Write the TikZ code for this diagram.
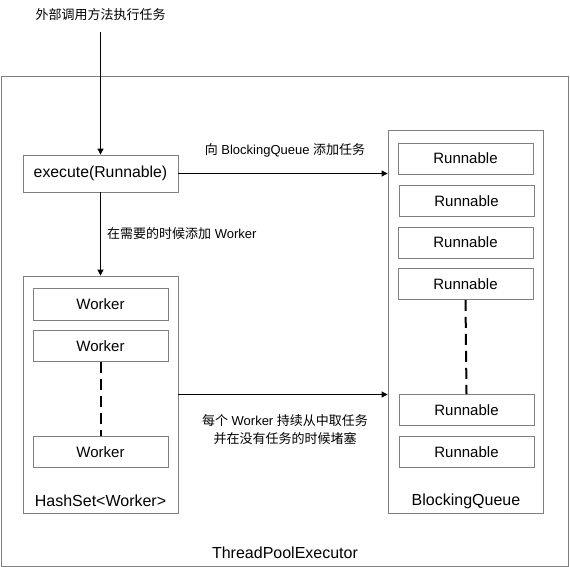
\documentclass[tikz,border=0pt]{standalone}
\usepackage{fontspec}
\setmainfont{Liberation Sans}
\newfontfamily\cjk{Noto Sans CJK SC}
\usetikzlibrary{arrows.meta}
\begin{document}
\begin{tikzpicture}[x=1pt,y=-1pt,
  gbox/.style={draw=black!50, line width=0.8pt, inner sep=0pt, font=\fontsize{15}{17}\selectfont},
  arr/.style={draw=black, line width=0.8pt, -{Triangle[length=6pt,width=6pt]}},
  dsh/.style={draw=black, line width=2pt, dash pattern=on 11pt off 6pt},
  lbl/.style={font=\fontsize{13}{18}\selectfont, inner sep=0pt},
  big/.style={font=\fontsize{16}{18}\selectfont, inner sep=0pt}]
\useasboundingbox (0,0) rectangle (570,567);
% outer container
\node[gbox, minimum width=567pt, minimum height=490pt] (pool) at (284.5,321) {};
\node[big] (poollbl) at (285,553) {ThreadPoolExecutor};
% top text
\node[lbl] (ext) at (100.5,15) {\cjk 外部调用方法执行任务};
\coordinate (start) at (100.5,32);
% execute
\node[gbox, minimum width=155pt, minimum height=37pt, font=\fontsize{15.8}{18}\selectfont] (exec) at (100.5,173.5) {execute(Runnable)};
% queue
\node[gbox, minimum width=155pt, minimum height=383pt] (queue) at (465.5,321.5) {};
\node[big] (queuelbl) at (466,501) {BlockingQueue};
\node[gbox, minimum width=135pt, minimum height=31pt] (r1) at (465.5,158.5) {Runnable};
\node[gbox, minimum width=135pt, minimum height=31pt] (r2) at (466.5,201) {Runnable};
\node[gbox, minimum width=135pt, minimum height=31pt] (r3) at (465.5,242.5) {Runnable};
\node[gbox, minimum width=135pt, minimum height=31pt] (r4) at (465.5,284) {Runnable};
\node[gbox, minimum width=135pt, minimum height=31pt] (r5) at (466.5,410) {Runnable};
\node[gbox, minimum width=135pt, minimum height=31pt] (r6) at (466.5,452) {Runnable};
% hashset
\node[gbox, minimum width=155pt, minimum height=237pt] (hash) at (100.5,394.5) {};
\node[big] (hashlbl) at (100.5,501) {HashSet<Worker>};
\node[gbox, minimum width=135pt, minimum height=32pt] (w1) at (100.5,304.5) {Worker};
\node[gbox, minimum width=135pt, minimum height=31pt] (w2) at (100.5,346) {Worker};
\node[gbox, minimum width=135pt, minimum height=31pt] (w3) at (100.5,452) {Worker};
% connectors
\draw[arr] (start) -- (exec.north);
\draw[arr] (exec.east) -- (queue.west |- exec.east);
\node[lbl] (l1) at (285,150) {{\cjk 向} BlockingQueue {\cjk 添加任务}};
\draw[arr] (exec.south) -- (hash.north);
\node[lbl, anchor=west] (l2) at (107,234) {{\cjk 在需要的时候添加} Worker};
\draw[arr] (hash.east) -- (queue.west |- hash.east);
\node[lbl, align=center] (l3) at (285,430) {{\cjk 每个} Worker {\cjk 持续从中取任务}\\{\cjk 并在没有任务的时候堵塞}};
\draw[dsh] (w2.south) -- (w3.north);
\draw[dsh] (r4.south) -- (r5.north);
\end{tikzpicture}
\end{document}
